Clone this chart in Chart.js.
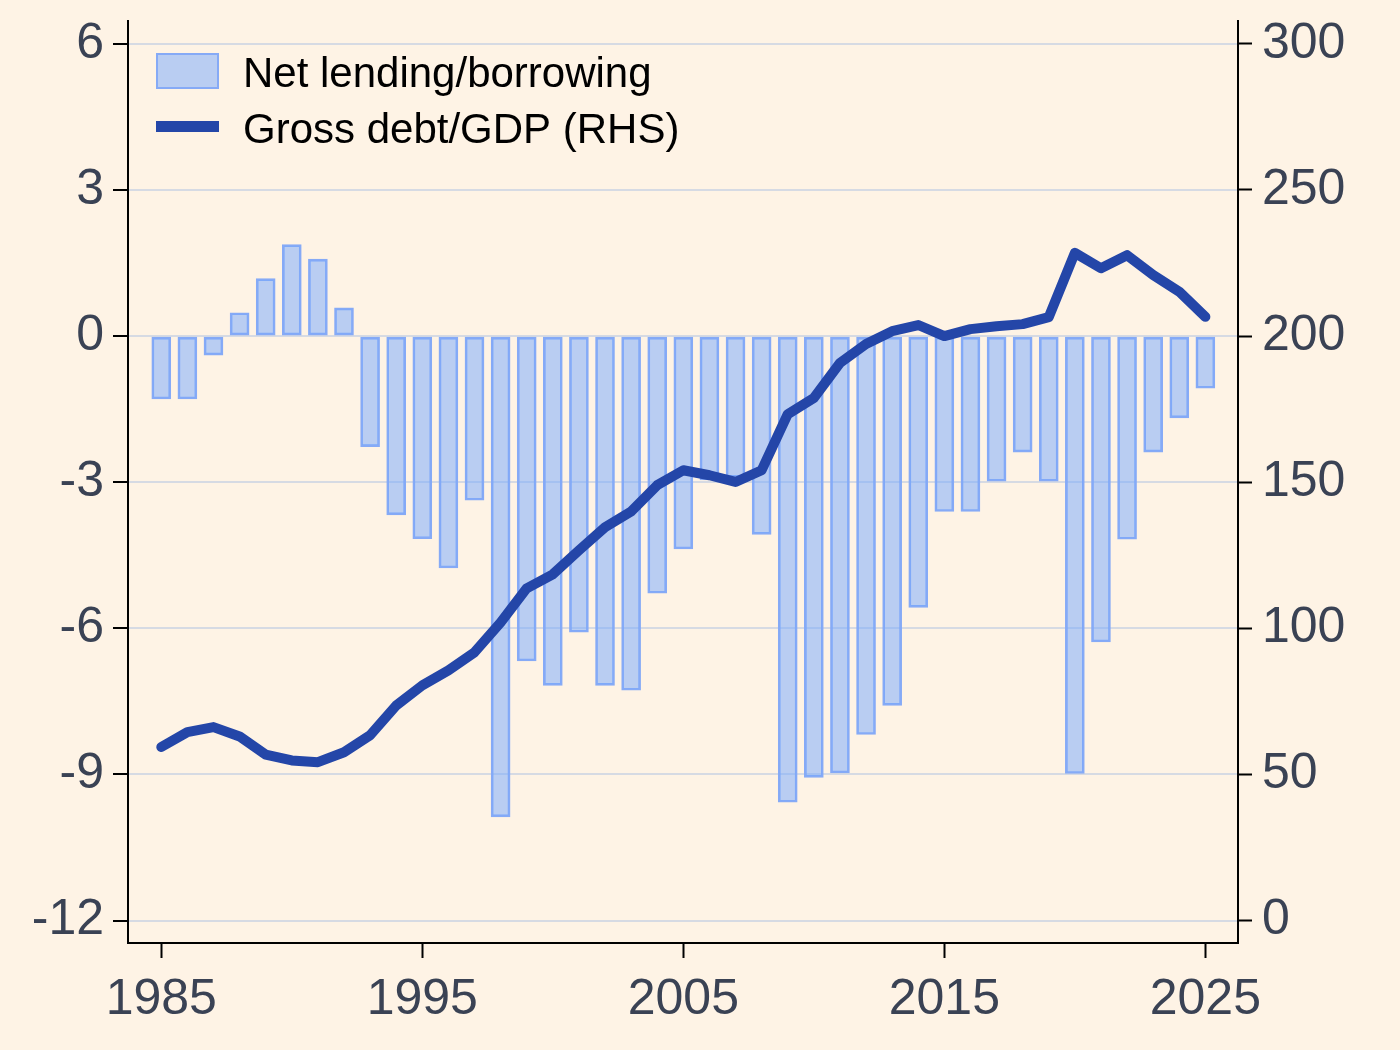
<!DOCTYPE html>
<html>
<head>
<meta charset="utf-8">
<script src="https://cdn.jsdelivr.net/npm/chart.js@4"></script>
<style>
  html, body { margin: 0; padding: 0; background: #fef3e5; }
  #wrap { width: 1400px; height: 1050px; }
</style>
</head>
<body>
<div id="wrap"><canvas id="grafico" width="1400" height="1050"></canvas></div>
<script>
const years = [];
for (let y = 1985; y <= 2025; y++) years.push(y);

// % of GDP, left axis
const netLending = [
  -1.29, -1.29, -0.39, 0.48, 1.18, 1.88, 1.58, 0.58, -2.27, -3.67,
  -4.16, -4.76, -3.37, -9.87, -6.67, -7.17, -6.08, -7.17, -7.27, -5.28,
  -4.37, -2.95, -2.9, -4.07, -9.57, -9.06, -8.97, -8.18, -7.58, -5.57,
  -3.6, -3.6, -2.98, -2.38, -2.98, -8.98, -6.28, -4.17, -2.38, -1.68,
  -1.07
];

// % of GDP, right axis
const grossDebt = [
  59.4, 64.5, 66.2, 63.0, 56.8, 54.8, 54.2, 57.6, 63.4, 73.6,
  80.5, 85.6, 91.8, 102.0, 113.7, 118.5, 126.7, 134.6, 140.0, 149.0,
  154.1, 152.4, 150.1, 154.1, 173.3, 178.8, 190.8, 197.3, 201.7, 203.8,
  200.0, 202.4, 203.4, 204.1, 206.5, 228.5, 223.2, 227.7, 220.9, 215.2,
  206.6
];

const xTicks = [1985, 1995, 2005, 2015, 2025];
const leftTicks = [-12, -9, -6, -3, 0, 3, 6];
const rightTicks = [0, 50, 100, 150, 200, 250, 300];

const barFill = "rgba(116,167,255,0.5)";
const barBorder = "#86aaf6";
const lineColor = "#2446a8";
const tickColor = "#3a4254";
const fontFam = "'Liberation Sans', Arial, sans-serif";

const setTicks = list => scale => { scale.ticks = list.map(v => ({ value: v })); };
const noPad = s => { s.paddingTop = 0; s.paddingBottom = 0; s.paddingLeft = 0; s.paddingRight = 0; };

// legend drawn inside the plot, top left
const insideLegend = {
  id: "insideLegend",
  afterDraw(chart) {
    const { ctx, chartArea } = chart;
    const x0 = chartArea.left + 28;
    const y0 = chartArea.top + 32;
    const sets = chart.data.datasets;
    ctx.save();
    ctx.fillStyle = sets[0].backgroundColor;
    ctx.fillRect(x0, y0, 63, 36);
    ctx.strokeStyle = sets[0].borderColor;
    ctx.lineWidth = 2;
    ctx.strokeRect(x0 + 1, y0 + 1, 61, 34);
    ctx.fillStyle = sets[1].borderColor;
    ctx.fillRect(x0, y0 + 68, 63, 11);
    ctx.fillStyle = "#000";
    ctx.font = "42px " + fontFam;
    ctx.textBaseline = "alphabetic";
    ctx.fillText(sets[0].label, x0 + 87, y0 + 34);
    ctx.fillText(sets[1].label, x0 + 87, y0 + 90);
    ctx.restore();
  }
};

new Chart(document.getElementById("grafico").getContext("2d"), {
  type: "bar",
  data: {
    datasets: [
      {
        type: "bar",
        label: "Net lending/borrowing",
        data: years.map((yr, i) => ({ x: yr, y: netLending[i] })),
        backgroundColor: barFill,
        borderColor: barBorder,
        borderWidth: 2,
        borderSkipped: false,
        barThickness: 19,
        yAxisID: "y",
        order: 2
      },
      {
        type: "line",
        label: "Gross debt/GDP (RHS)",
        data: years.map((yr, i) => ({ x: yr, y: grossDebt[i] })),
        borderColor: lineColor,
        backgroundColor: lineColor,
        borderWidth: 10,
        borderCapStyle: "round",
        borderJoinStyle: "round",
        pointRadius: 0,
        tension: 0,
        yAxisID: "y1",
        order: 1
      }
    ]
  },
  options: {
    responsive: false,
    animation: false,
    layout: { padding: { top: 21, left: 0, right: 0, bottom: 0 } },
    plugins: {
      legend: { display: false },
      tooltip: { enabled: false }
    },
    scales: {
      x: {
        type: "linear",
        min: 1983.725,
        max: 2026.25,
        offset: false,
        afterBuildTicks: setTicks(xTicks),
        afterFit: s => { noPad(s); s.height = 107; },
        grid: { offset: false, drawOnChartArea: false, tickLength: 15, tickColor: "#000", tickWidth: 2 },
        border: { color: "#000", width: 2 },
        ticks: {
          color: tickColor,
          font: { family: fontFam, size: 50 },
          padding: 12,
          maxRotation: 0,
          callback: v => String(v)
        }
      },
      y: {
        position: "left",
        min: -12.46,
        max: 6.47,
        afterBuildTicks: setTicks(leftTicks),
        afterFit: s => { noPad(s); s.width = 128; },
        grid: { color: "#d6dae3", lineWidth: 2, tickLength: 15, tickColor: "#000", tickWidth: 2 },
        border: { color: "#000", width: 2 },
        ticks: {
          color: tickColor,
          font: { family: fontFam, size: 50 },
          padding: 9,
          callback: v => String(v)
        }
      },
      y1: {
        position: "right",
        min: -7.67,
        max: 307.83,
        afterBuildTicks: setTicks(rightTicks),
        afterFit: s => { noPad(s); s.width = 162; },
        grid: { drawOnChartArea: false, tickLength: 14, tickColor: "#000", tickWidth: 2 },
        border: { color: "#000", width: 2 },
        ticks: {
          color: tickColor,
          font: { family: fontFam, size: 50 },
          padding: 10,
          callback: v => String(v)
        }
      }
    }
  },
  plugins: [insideLegend]
});
</script>
</body>
</html>
